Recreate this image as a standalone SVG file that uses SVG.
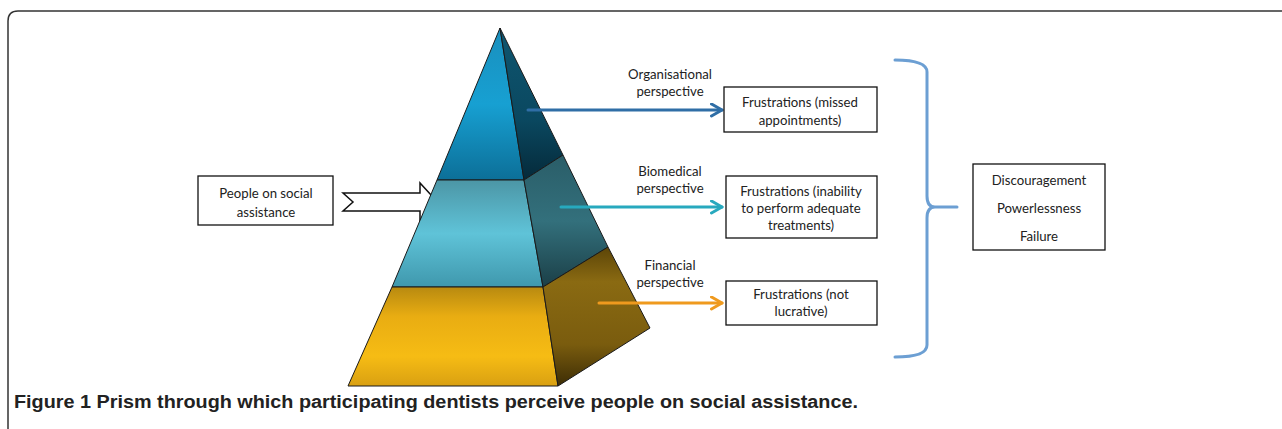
<svg xmlns="http://www.w3.org/2000/svg" width="1282" height="429" viewBox="0 0 1282 429">
<style>
.t{font-family:Lato,"Open Sans","Liberation Sans",sans-serif;font-size:13.2px;fill:#222;text-anchor:middle}
.box{fill:#fff;stroke:#111;stroke-width:1.3}
.edge{stroke:#1a1a1a;stroke-width:1;stroke-linejoin:round}
.cap{font-family:"Liberation Sans","Open Sans",sans-serif;font-size:18px;fill:#222;font-weight:700}
</style>
<defs>
<linearGradient id="gTopF" x1="0" y1="0" x2="0" y2="1">
<stop offset="0" stop-color="#1a8fbd"/><stop offset="0.5" stop-color="#17a0d2"/><stop offset="1" stop-color="#0c6f98"/>
</linearGradient>
<linearGradient id="gTopR" x1="0" y1="0" x2="0" y2="1">
<stop offset="0" stop-color="#0f5670"/><stop offset="0.6" stop-color="#0a4860"/><stop offset="1" stop-color="#052a3a"/>
</linearGradient>
<linearGradient id="gMidF" x1="0" y1="0" x2="0" y2="1">
<stop offset="0" stop-color="#4c96a6"/><stop offset="0.5" stop-color="#5fc3d8"/><stop offset="1" stop-color="#3f98ad"/>
</linearGradient>
<linearGradient id="gMidR" x1="0" y1="0" x2="0" y2="1">
<stop offset="0" stop-color="#2a5d68"/><stop offset="0.5" stop-color="#33707c"/><stop offset="1" stop-color="#1b3f47"/>
</linearGradient>
<linearGradient id="gBotF" x1="0" y1="0" x2="0" y2="1">
<stop offset="0" stop-color="#b88a10"/><stop offset="0.3" stop-color="#e9ad12"/><stop offset="0.7" stop-color="#f6bc14"/><stop offset="1" stop-color="#d9a012"/>
</linearGradient>
<linearGradient id="gBotR" x1="0" y1="0" x2="0" y2="1">
<stop offset="0" stop-color="#5c4508"/><stop offset="0.25" stop-color="#8a6a12"/><stop offset="0.7" stop-color="#7a5c0e"/><stop offset="1" stop-color="#3d2d05"/>
</linearGradient>
<marker id="ah" viewBox="0 0 10 10" refX="8" refY="5" markerWidth="5" markerHeight="5" orient="auto" markerUnits="strokeWidth">
<path d="M1 1 L8 5 L1 9" fill="none" stroke="context-stroke" stroke-width="2" stroke-linecap="round" stroke-linejoin="round"/>
</marker>
</defs>
<rect width="1282" height="429" fill="#fff"/>
<path d="M8 440 V21 Q8 11 18 11 H1290" fill="none" stroke="#333" stroke-width="1.5"/>

<g id="input-arrow">
<path d="M343 193 H420 V183 L437 201.5 L420 220 V211 H343 L353 202 Z" fill="#fff" stroke="#111" stroke-width="1.5" stroke-linejoin="miter"/>
</g>

<g id="prism">
<polygon points="500,28 524,180 437,180" fill="url(#gTopF)" class="edge"/>
<polygon points="500,28 563,155 524,180" fill="url(#gTopR)" class="edge"/>
<polygon points="437,180 524,180 543,287 392,287" fill="url(#gMidF)" class="edge"/>
<polygon points="524,180 563,155 608,247 543,287" fill="url(#gMidR)" class="edge"/>
<polygon points="392,287 543,287 558,386 348,386" fill="url(#gBotF)" class="edge"/>
<polygon points="543,287 608,247 650,328 558,386" fill="url(#gBotR)" class="edge"/>
</g>

<g id="people">
<rect x="198" y="176" width="135" height="49" class="box"/>
<text class="t" x="266" y="198">People on social</text>
<text class="t" x="266" y="217">assistance</text>
</g>

<g id="connectors" fill="none" stroke-width="3" stroke-linecap="round">
<line x1="528" y1="110" x2="722" y2="110" stroke="#2f6ea6" marker-end="url(#ah)"/>
<line x1="561" y1="207" x2="722" y2="207" stroke="#27a9be" marker-end="url(#ah)"/>
<line x1="599" y1="303" x2="722" y2="303" stroke="#ef9a1e" marker-end="url(#ah)"/>
<path d="M895 60 Q927 60 927 72 V196 Q927 207 935 207 H957 M935 207 Q927 207 927 218 V345 Q927 357 895 357" stroke="#6c9fd3"/>
</g>

<g id="label-org">
<text class="t" x="670" y="79">Organisational</text>
<text class="t" x="670" y="96">perspective</text>
</g>
<g id="label-bio">
<text class="t" x="670" y="176">Biomedical</text>
<text class="t" x="670" y="193">perspective</text>
</g>
<g id="label-fin">
<text class="t" x="670" y="270">Financial</text>
<text class="t" x="670" y="287">perspective</text>
</g>

<g id="frus1">
<rect x="724" y="87" width="153" height="45" class="box"/>
<text class="t" x="800" y="107">Frustrations (missed</text>
<text class="t" x="800" y="125">appointments)</text>
</g>
<g id="frus2">
<rect x="726" y="176" width="151" height="62" class="box"/>
<text class="t" x="801" y="196">Frustrations (inability</text>
<text class="t" x="801" y="213">to perform adequate</text>
<text class="t" x="801" y="230">treatments)</text>
</g>
<g id="frus3">
<rect x="726" y="281" width="151" height="44" class="box"/>
<text class="t" x="801" y="299">Frustrations (not</text>
<text class="t" x="801" y="316">lucrative)</text>
</g>

<g id="outcome">
<rect x="973" y="164" width="132" height="86" class="box"/>
<text class="t" x="1039" y="185">Discouragement</text>
<text class="t" x="1039" y="213">Powerlessness</text>
<text class="t" x="1039" y="241">Failure</text>
</g>

<text class="cap" x="14" y="408" textLength="844" lengthAdjust="spacingAndGlyphs">Figure 1 Prism through which participating dentists perceive people on social assistance.</text>
</svg>
